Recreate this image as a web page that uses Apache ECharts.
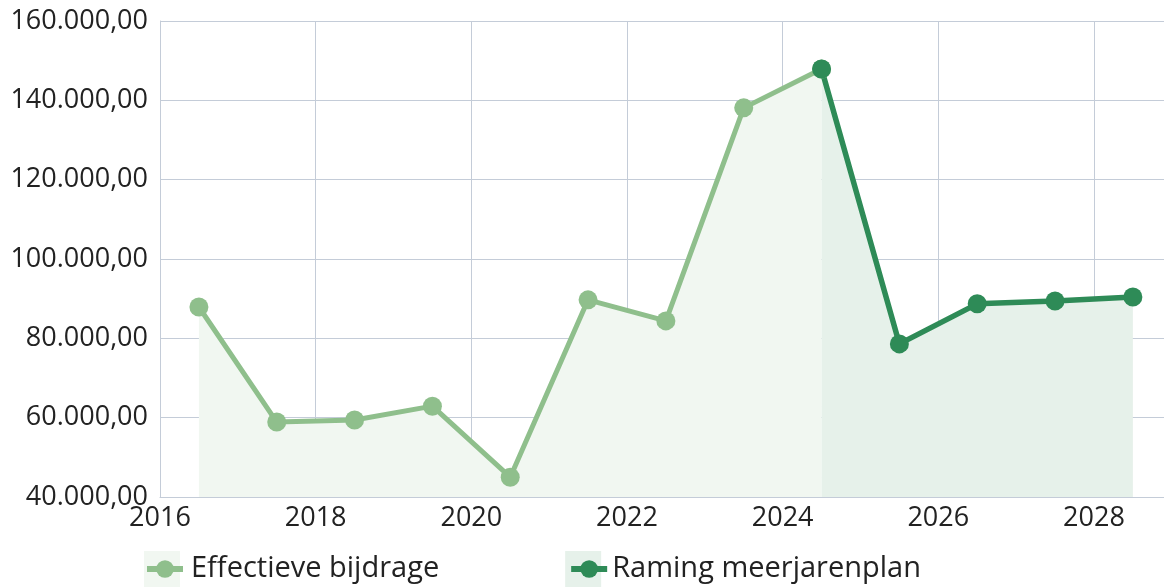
<html style="height: 100%">
	<head>
		<meta charset="utf-8">
	</head>
	<body style="height: 100%; width: 100%; margin: 0; background: #fff">
		<div id="container" style="height: 100%;width: 100%;"></div>
		<script type="text/javascript" src="https://cdn.jsdelivr.net/npm/echarts@6/dist/echarts.min.js"></script>
		<script type="text/javascript">
			var dom = document.getElementById("container");
			var myChart = echarts.init(dom);
			var option;

			// jaren (midden van het jaar) en bedragen
			var jarenEffectief = [2016.5, 2017.5, 2018.5, 2019.5, 2020.5, 2021.5, 2022.5, 2023.5, 2024.5];
			var effectief = [87900, 58900, 59400, 62900, 45000, 89700, 84400, 138100, 147900];
			var jarenRaming = [2024.5, 2025.5, 2026.5, 2027.5, 2028.5];
			var raming = [147900, 78600, 88700, 89400, 90400];
			var namen = ['Effectieve bijdrage', 'Raming meerjarenplan'];

			var lichtGroen = '#8fbf8c';
			var donkerGroen = '#2e8b57';
			var font = 'Open Sans';

			function pairs(xs, ys) {
				var out = [];
				for (var i = 0; i < xs.length; i++) {
					out.push([xs[i], ys[i]]);
				}
				return out;
			}

			function bedrag(v) {
				return v.toLocaleString('nl-BE', {minimumFractionDigits: 2, maximumFractionDigits: 2});
			}

			// twee legendes boven elkaar: vlak als achtergrond, lijn + bol erover
			var legendBase = {
				bottom: 0,
				left: 144,
				padding: 0,
				itemWidth: 36,
				itemHeight: 36,
				itemGap: 126,
				textStyle: {fontFamily: font, fontSize: 29, lineHeight: 38, color: '#222', padding: [0, 0, 0, 6]}
			};

			option = {
				animation: false,
				grid: {left: 160, right: 0, top: 21, bottom: 91},
				legend: [
					Object.assign({}, legendBase, {
						icon: 'rect',
						data: [
							{name: namen[0], itemStyle: {color: '#f1f7f1'}},
							{name: namen[1], itemStyle: {color: '#e6f1ea'}}
						]
					}),
					Object.assign({}, legendBase, {
						itemHeight: 22,
						lineStyle: {width: 6},
						data: [namen[0], namen[1]],
						textStyle: Object.assign({}, legendBase.textStyle, {color: 'rgba(0,0,0,0)'})
					})
				],
				xAxis: {
					type: 'value',
					min: 2016,
					max: 2028.9,
					interval: 2,
					axisLine: {show: true, lineStyle: {color: '#c4ccd8', width: 1}},
					axisTick: {show: false},
					splitLine: {show: true, lineStyle: {color: '#c4ccd8', width: 1}},
					axisLabel: {
						fontFamily: font, fontSize: 27, color: '#222', margin: 8,
						showMaxLabel: false,
						formatter: function (v) { return String(v); }
					}
				},
				yAxis: {
					type: 'value',
					min: 40000,
					max: 160000,
					interval: 20000,
					axisLine: {show: true, lineStyle: {color: '#c4ccd8', width: 1}},
					axisTick: {show: false},
					splitLine: {show: true, lineStyle: {color: '#c4ccd8', width: 1}},
					axisLabel: {
						fontFamily: font, fontSize: 27, color: '#222', margin: 12,
						formatter: bedrag
					}
				},
				series: [{
					name: namen[0],
					type: 'line',
					data: pairs(jarenEffectief, effectief),
					symbol: 'circle',
					symbolSize: 19,
					color: lichtGroen,
					lineStyle: {width: 5, color: lichtGroen},
					itemStyle: {color: lichtGroen},
					areaStyle: {color: '#f1f7f1', opacity: 1, origin: 'start'}
				}, {
					name: namen[1],
					type: 'line',
					data: pairs(jarenRaming, raming),
					symbol: 'circle',
					symbolSize: 19,
					color: donkerGroen,
					lineStyle: {width: 5.5, color: donkerGroen},
					itemStyle: {color: donkerGroen},
					areaStyle: {color: '#e6f1ea', opacity: 1, origin: 'start'}
				}]
			};

			if (option && typeof option === 'object') {
				myChart.setOption(option);
			}
		</script>
	</body>
</html>
